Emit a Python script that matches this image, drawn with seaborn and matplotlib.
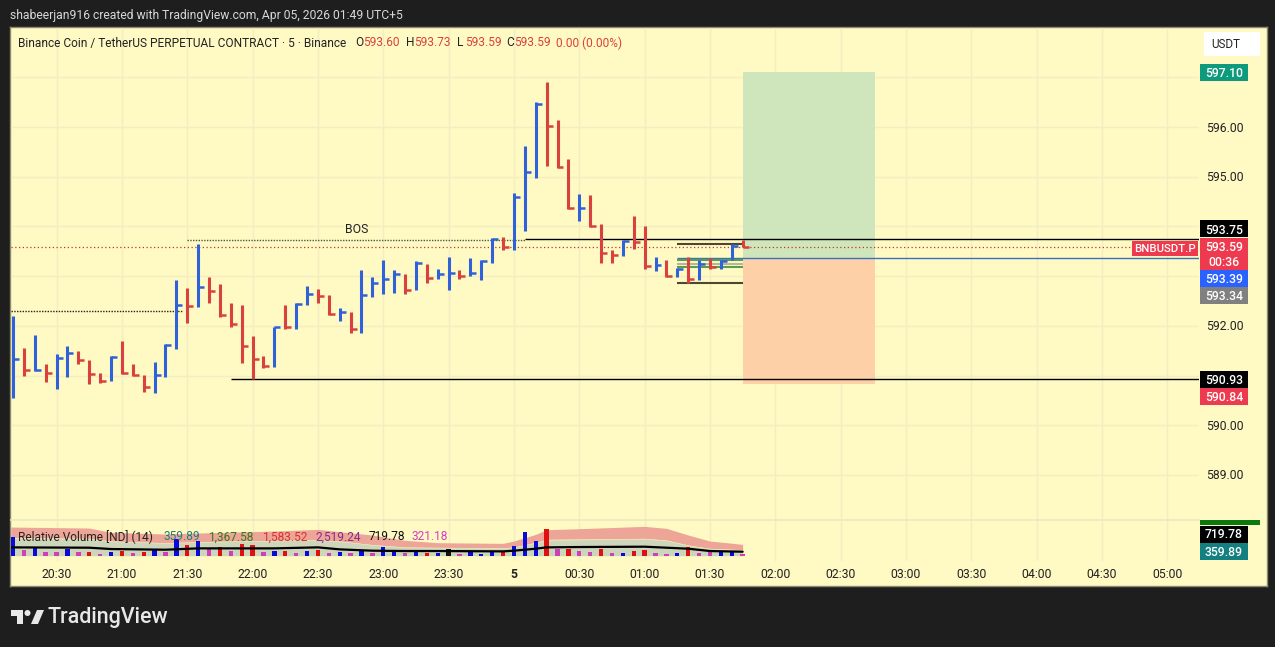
import matplotlib
matplotlib.use('Agg')
import matplotlib.pyplot as plt
from matplotlib.patches import Ellipse
import pandas as pd
import seaborn as sb

W, H = 1275, 647
BG = '#1e1e1e'
PANE = '#fff9c4'
GRID = '#f3edc2'
BLUE = '#2f62d8'
RED = '#d9413f'

# bar values, one per 5 minute bar from 20:10
highs = [592.20, 591.55, 591.82, 591.23, 591.43, 591.59, 591.49, 591.31, 591.06, 591.39,
         591.69, 591.23, 591.02, 591.27, 591.63, 592.92, 592.77, 593.64, 592.98, 592.84,
         592.45, 592.41, 591.79, 591.39, 591.98, 592.41, 592.45, 592.81, 592.75, 592.61,
         592.35, 592.27, 593.12, 592.98, 593.32, 593.12, 593.04, 593.30, 593.24, 593.14,
         593.38, 593.12, 593.36, 593.32, 593.76, 593.78, 594.67, 595.61, 596.50, 596.90,
         596.15, 595.35, 594.65, 594.63, 594.04, 593.52, 593.72, 594.20, 594.00, 593.38,
         593.32, 593.16, 593.38, 593.32, 593.36, 593.32, 593.64, 593.73]
lows = [590.55, 591.00, 591.10, 590.86, 590.73, 590.96, 591.23, 590.82, 590.84, 590.88,
        591.04, 591.00, 590.67, 590.65, 590.98, 591.54, 592.06, 592.38, 592.46, 592.18,
        591.98, 591.26, 590.93, 591.16, 591.18, 591.94, 591.94, 592.42, 592.45, 592.22,
        592.10, 591.86, 591.86, 592.57, 592.65, 592.67, 592.65, 592.73, 592.86, 592.94,
        592.73, 592.94, 593.00, 592.93, 593.27, 593.52, 593.53, 593.91, 594.98, 595.22,
        595.18, 594.36, 594.11, 593.99, 593.27, 593.27, 593.41, 593.55, 593.15, 593.11,
        592.99, 592.99, 592.86, 592.93, 593.14, 593.14, 593.32, 593.59]
closes = [591.33, 591.12, 591.12, 591.06, 591.35, 591.45, 591.31, 591.04, 590.88, 591.37,
          591.06, 591.02, 590.77, 591.02, 591.61, 592.41, 592.39, 592.79, 592.71, 592.22,
          592.04, 591.59, 591.33, 591.19, 591.97, 591.97, 592.43, 592.63, 592.59, 592.24,
          592.27, 591.93, 592.61, 592.86, 592.94, 593.04, 592.73, 593.26, 592.96, 593.04,
          593.06, 593.00, 593.06, 593.30, 593.74, 593.58, 594.59, 595.09, 596.46, 596.03,
          595.20, 594.38, 594.38, 594.01, 593.46, 593.42, 593.70, 593.68, 593.21, 593.22,
          593.01, 593.14, 592.94, 593.24, 593.19, 593.30, 593.60, 593.59]
bar_dirs = list('brbrbbrrrbrrrbbbrbrrrrrrbrbbrrbrbbbbrbrbbrbbbrbbbrrrbrrrbrrbrbrbrbbr')

rel_volume = [3360, 960, 1440, 660, 660, 1200, 660, 660, 300, 660,
              840, 480, 720, 1020, 660, 3000, 1920, 2640, 1200, 1500,
              840, 2100, 1860, 660, 840, 840, 480, 840, 1020, 480,
              660, 480, 960, 540, 1560, 720, 480, 600, 540, 480,
              1200, 300, 600, 300, 660, 600, 1740, 4260, 2640, 4800,
              1200, 1200, 840, 660, 1200, 480, 480, 840, 1020, 480,
              300, 480, 1560, 480, 600, 600, 660, 300]
vol_kinds = ['blue', 'pink', 'blue', 'pink', 'pink', 'blue', 'pink', 'red', 'pink', 'blue',
             'red', 'pink', 'red', 'blue', 'pink', 'blue', 'red', 'blue', 'pink', 'red',
             'pink', 'red', 'red', 'pink', 'blue', 'red', 'pink', 'blue', 'red', 'pink',
             'blue', 'pink', 'blue', 'pink', 'blue', 'blue', 'pink', 'blue', 'red', 'blue',
             'black', 'pink', 'blue', 'blue', 'blue', 'red', 'blue', 'blue', 'blue', 'red',
             'pink', 'red', 'pink', 'pink', 'red', 'pink', 'blue', 'red', 'red', 'pink',
             'pink', 'blue', 'red', 'pink', 'pink', 'blue', 'blue', 'pink']

# bands of the volume study, read at the bars where they bend
band_bars = [-0.2, 7, 9, 14, 17, 24, 28, 30, 33, 36, 39, 45, 46, 48, 49, 52, 58, 60, 62, 64, 67]
band_top = [5160, 4980, 4200, 3900, 4080, 4440, 4740, 4320, 3720, 2760, 2340, 2220, 2640, 3840, 4680, 4860, 5280, 4920, 3720, 2640, 2040]
band_red = [3240, 3120, 2640, 2340, 2520, 2760, 2880, 2640, 2000, 1560, 1500, 1440, 1560, 2400, 2940, 3000, 3120, 2820, 1920, 1320, 1080]
band_grey = [3120, 3000, 2560, 2260, 2440, 2680, 2800, 2560, 1920, 1480, 1420, 1360, 1480, 2300, 2820, 2880, 3000, 2720, 1840, 1240, 1000]
band_avg = [1500, 1440, 1200, 1080, 1320, 1320, 1500, 1140, 900, 840, 840, 780, 900, 1260, 1500, 1560, 1620, 1440, 1260, 840, 720]

price_ticks = [596, 595, 592, 590, 589]
time_labels = ['20:30', '21:00', '21:30', '22:00', '22:30', '23:00', '23:30', '5', '00:30',
               '01:00', '01:30', '02:00', '02:30', '03:00', '03:30', '04:00', '04:30', '05:00']
# first label sits 4 bars after the first bar, then one label every 6 bars
time_bars = [4 + 6 * i for i in range(len(time_labels))]


def px_axes(fig, left, top, right, bottom):
    return fig.add_axes([left / W, 1 - bottom / H, (right - left) / W, (bottom - top) / H])


def px_rect(fig, left, top, w, h, color, zorder=5):
    fig.patches.append(plt.Rectangle((left / W, 1 - (top + h) / H), w / W, h / H, transform=fig.transFigure,
                                     facecolor=color, edgecolor='none', zorder=zorder))


def px_text(fig, x, y, text, **kw):
    # matplotlib centres a pixel high, so push every label down by one
    fig.text(x / W, 1 - (y + 1) / H, text, va='center', **kw)


def badge(fig, y, text, color, fg='white', x=1200, w=48, h=17, size=8.8):
    px_rect(fig, x, y - h / 2, w, h, color)
    px_text(fig, x + w / 2, y, text, color=fg, fontsize=size, ha='center', zorder=6, fontweight='medium')


sb.set_theme(style='white')
plt.rcParams['font.family'] = ['Roboto', 'DejaVu Sans']

fig = plt.figure(figsize=(W / 100, H / 100), dpi=100, facecolor=BG)
frame = px_axes(fig, 10, 27, 1267, 586)
frame.set_facecolor(PANE)
frame.set_xticks([])
frame.set_yticks([])
for s in frame.spines.values():
    s.set_color('#8a8a70')
    s.set_linewidth(1)

ax = px_axes(fig, 11, 28, 1199, 520)
ax.patch.set_alpha(0)
vol = px_axes(fig, 11, 520, 1199, 561)
vol.patch.set_alpha(0)

# x scale: 10.89 px per bar, first bar at x = 13
xlim = ((11 - 13) / 10.89, (1199 - 13) / 10.89)

df = pd.DataFrame({'bar': range(len(highs)), 'high': highs, 'low': lows, 'close': closes, 'dir': bar_dirs})
colors = df['dir'].map({'b': BLUE, 'r': RED})

ax.set_xticks(time_bars)
ax.set_yticks(range(589, 598))
ax.set_xlim(xlim)
ax.set_ylim(596 - (520 - 127) * 0.02012, 596 + (127 - 28) * 0.02012)
ax.grid(True, color=GRID, lw=1)
ax.set_axisbelow(True)
ax.tick_params(length=0, labelbottom=False, labelleft=False)
for s in ax.spines.values():
    s.set_visible(False)

# long/short position box
ax.fill_between([67.0, 79.2], 593.34, 597.10, color='#cfe5bb', lw=0, zorder=1)
ax.fill_between([67.0, 79.2], 590.82, 593.34, color='#fdd0a8', lw=0, zorder=1)

# levels
ax.hlines(593.59, xlim[0], 103, color='#c0392b', lw=0.9, ls=(0, (1, 2)), zorder=2)
ax.hlines(592.30, xlim[0], 15.5, color='#222222', lw=1, ls=(0, (1, 1)), zorder=2)
ax.hlines(593.72, 16, 47, color='#555544', lw=1, ls=(0, (1, 1)), zorder=2)
ax.hlines(593.75, 47, xlim[1], color='black', lw=1, zorder=2)
ax.hlines(590.93, 20, xlim[1], color='black', lw=1, zorder=2)
ax.hlines(593.37, 61, xlim[1], color='#3a6fc0', lw=1, zorder=2)
ax.hlines(593.65, 61, 67, color='#4d4732', lw=1.5, zorder=3)
ax.hlines(592.87, 61, 67, color='#4d4732', lw=1.5, zorder=3)
for lvl, c in [(593.32, '#5a9e4b'), (593.25, '#b5b5a0'), (593.18, '#5a9e4b')]:
    ax.hlines(lvl, 61, 67, color=c, lw=1.5, zorder=3)
ax.text(31.6, 593.81, 'BOS', fontsize=8.8, color='#222222', ha='center', va='bottom')

# HLC bars
ax.vlines(df['bar'], df['low'], df['high'], colors=colors, lw=2.2, zorder=4)
ax.hlines(df['close'], df['bar'], df['bar'] + 0.55, colors=colors, lw=1.8, zorder=4)

# volume pane
vol.fill_between(band_bars, band_red, band_top, color='#eca596', lw=0, zorder=1)
vol.fill_between(band_bars, band_grey, band_red, color='#f4e0b6', lw=0, zorder=1)
vol.fill_between(band_bars, 0, band_grey, color='#cdd6ba', lw=0, zorder=1)
sb.barplot(x=df['bar'], y=rel_volume, hue=vol_kinds, ax=vol, native_scale=True, dodge=False, width=0.4, legend=False,
           palette={'blue': '#0a0ad8', 'red': '#e01010', 'pink': '#cf3fb8', 'black': '#111111'}, saturation=1,
           linewidth=0, zorder=3)
sb.lineplot(x=band_bars, y=band_avg, ax=vol, color='black', lw=1.6, zorder=4)
vol.set_xticks(time_bars)
vol.set_xticklabels([])
vol.set_xlim(xlim)
vol.set_ylim(-(561 - 555.7) * 180, (555.7 - 520) * 180)
vol.set_yticks([])
vol.set_xlabel('')
vol.set_ylabel('')
vol.grid(True, axis='x', color=GRID, lw=1)
vol.set_axisbelow(True)
vol.tick_params(length=0)
for s in vol.spines.values():
    s.set_visible(False)
vol.spines['top'].set_visible(True)
vol.spines['top'].set_color('#eee8bf')

for b, t in zip(time_bars, time_labels):
    px_text(fig, 13 + b * 10.89, 573, t, fontsize=8.8, color='#222222', ha='center',
            fontweight='bold' if t == '5' else 'normal')
for p in price_ticks:
    px_text(fig, 1225, 127 + (596 - p) * 49.7, f'{p:.2f}', fontsize=8.8, color='#222222', ha='center', zorder=3)

# header texts
px_text(fig, 10, 14, 'shabeerjan916 created with TradingView.com, Apr 05, 2026 01:49 UTC+5', color='#d8d8d8',
        fontsize=8.75)
px_text(fig, 18, 42, 'Binance Coin / TetherUS PERPETUAL CONTRACT · 5 · Binance', color='#222222', fontsize=8.6)
ohlc = [(355, 'O', '593.60'), (406, 'H', '593.73'), (457, 'L', '593.59'), (506, 'C', '593.59')]
for x, k, v in ohlc:
    px_text(fig, x, 42, k, color='#222222', fontsize=8.6)
    px_text(fig, x + 8, 42, v, color=RED, fontsize=8.6)
px_text(fig, 556, 42, '0.00 (0.00%)', color=RED, fontsize=8.6)

px_text(fig, 18, 536, 'Relative Volume [ND] (14)', color='#222222', fontsize=8.6, zorder=6)
study_vals = [(164, '359.89', '#1d7f7a'), (208, '1,367.58', '#2f7a1d'), (262, '1,583.52', '#d93030'),
              (315, '2,519.24', '#8a2a8a'), (369, '719.78', '#111111'), (412, '321.18', '#d43fc0')]
for x, v, c in study_vals:
    px_text(fig, x, 536, v, color=c, fontsize=8.6, zorder=6)

# USDT button
px_rect(fig, 1204, 32, 56, 24, 'white')
px_text(fig, 1226, 44, 'USDT', color='#222222', fontsize=8.4, ha='center', zorder=6)

# price badges
badge(fig, 72.5, '597.10', '#0e9a7c')
badge(fig, 229, '593.75', '#000000')
badge(fig, 254, '593.59\n00:36', '#ee3a4e', h=32)
badge(fig, 278.5, '593.39', '#2962ff')
badge(fig, 295.5, '593.34', '#808080')
badge(fig, 379.5, '590.93', '#000000')
badge(fig, 396.5, '590.84', '#ee3a4e')
badge(fig, 534, '719.78', '#000000')
badge(fig, 551, '359.89', '#137f80')
px_rect(fig, 1200, 520, 60, 5, '#0a7a10')
badge(fig, 248, 'BNBUSDT.P', '#ee3a4e', x=1132, w=66, h=15, size=8.2)

# TradingView mark
logo = '#e8e8e8'
px_rect(fig, 11, 610, 12, 6, logo)
px_rect(fig, 17, 610, 6, 14, logo)
fig.patches.append(Ellipse((27.5 / W, 1 - 613 / H), 6 / W, 6 / H, transform=fig.transFigure, facecolor=logo,
                           edgecolor='none', zorder=5))
fig.patches.append(plt.Polygon([(31 / W, 1 - 624 / H), (37 / W, 1 - 610 / H), (44 / W, 1 - 610 / H), (38 / W, 1 - 624 / H)],
                               transform=fig.transFigure, facecolor=logo, edgecolor='none', zorder=5))
px_text(fig, 48, 616, 'TradingView', color=logo, fontsize=15.5, fontweight='medium')

fig.savefig('out.png', dpi=100, facecolor=BG)
